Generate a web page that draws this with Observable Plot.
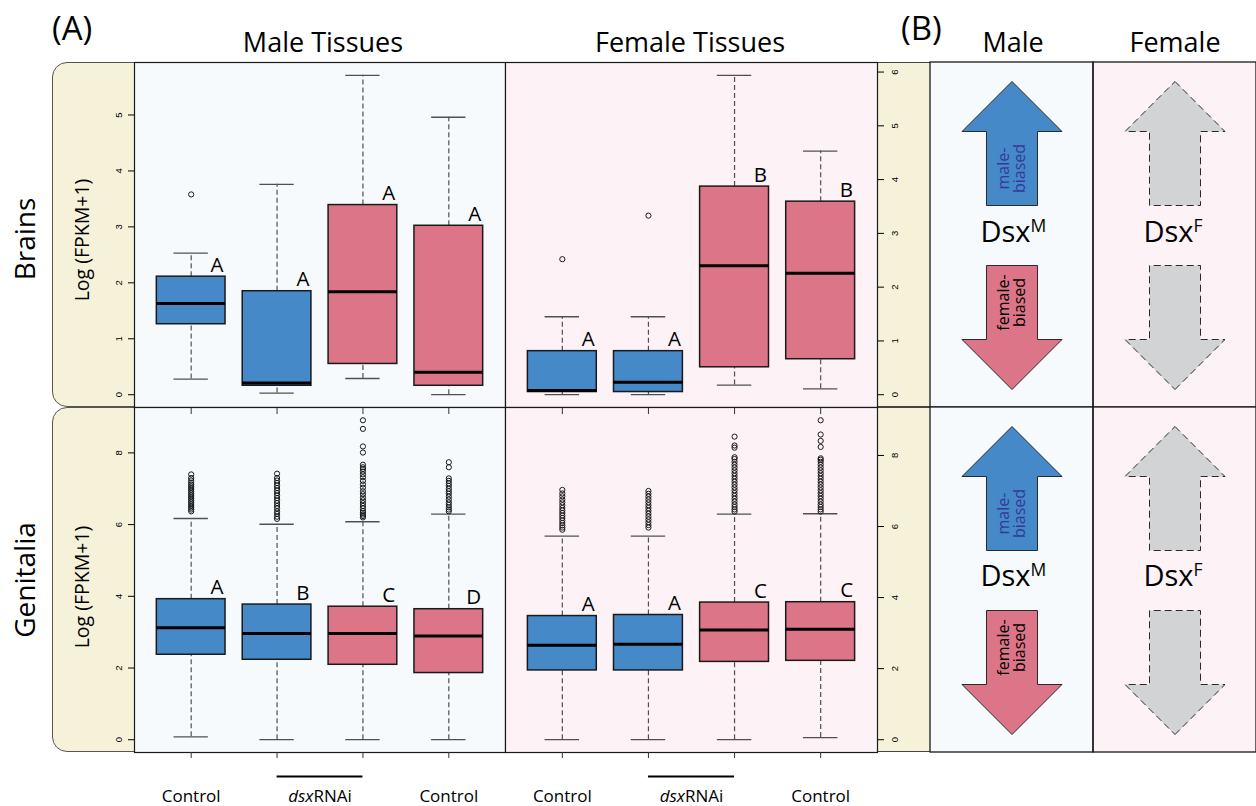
<!DOCTYPE html>
<html>
<head>
<meta charset="utf-8">
<script src="https://cdn.jsdelivr.net/npm/d3@7"></script>
<script src="https://cdn.jsdelivr.net/npm/@observablehq/plot@0.6"></script>
<style>
html,body{margin:0;padding:0;background:#fff;}
#fig{position:relative;width:1256px;height:806px;overflow:hidden;}
</style>
</head>
<body>
<div id="fig"></div>
<script>
// ---------------- data ----------------
// each stats row: [lower whisker, Q1, median, Q3, upper whisker]
const boxGroups = ["male-biased", "male-biased", "female-biased", "female-biased"];
const xGroupLabels = ["Control", "dsxRNAi", "Control"];
const xGroupItalic = ["", "dsx", ""];
const xGroupFirst = [1, 2, 4];
const xGroupLast = [1, 3, 4];

const brainsMaleStats = [
  [0.28, 1.26, 1.63, 2.11, 2.53],
  [0.03, 0.16, 0.21, 1.85, 3.76],
  [0.29, 0.55, 1.84, 3.39, 5.71],
  [0.00, 0.16, 0.40, 3.02, 4.96]
];
const brainsMaleLetters = ["A", "A", "A", "A"];
const brainsMaleOutliers = [[3.58], [], [], []];
const brainsMaleTicks = [0, 1, 2, 3, 4, 5];

const brainsFemaleStats = [
  [0.00, 0.05, 0.08, 0.81, 1.45],
  [0.00, 0.05, 0.23, 0.81, 1.45],
  [0.18, 0.51, 2.40, 3.87, 5.94],
  [0.11, 0.66, 2.26, 3.59, 4.53]
];
const brainsFemaleLetters = ["A", "A", "B", "B"];
const brainsFemaleOutliers = [[2.52], [3.33], [], []];
const brainsFemaleTicks = [0, 1, 2, 3, 4, 5, 6];

const genitaliaMaleStats = [
  [0.08, 2.37, 3.12, 3.92, 6.17],
  [0.00, 2.23, 2.96, 3.77, 6.01],
  [0.00, 2.09, 2.96, 3.71, 6.08],
  [0.00, 1.86, 2.89, 3.64, 6.29]
];
const genitaliaMaleLetters = ["A", "B", "C", "D"];
const genitaliaMaleOutliers = [
  [6.37, 6.42, 6.47, 6.52, 6.57, 6.62, 6.67, 6.72, 6.77, 6.82, 6.87, 6.92, 6.97, 7.02, 7.07, 7.12, 7.17, 7.23, 7.30, 7.40],
  [6.16, 6.22, 6.30, 6.37, 6.45, 6.52, 6.60, 6.67, 6.74, 6.81, 6.88, 6.95, 7.02, 7.09, 7.16, 7.23, 7.30, 7.42],
  [6.20, 6.24, 6.28, 6.33, 6.38, 6.45, 6.52, 6.60, 6.68, 6.76, 6.85, 6.93, 7.03, 7.12, 7.22, 7.32, 7.40, 7.48, 7.55, 7.60, 7.67, 8.01, 8.18, 8.67, 8.91],
  [6.37, 6.42, 6.48, 6.55, 6.62, 6.70, 6.78, 6.86, 6.93, 7.00, 7.08, 7.15, 7.22, 7.29, 7.60, 7.74]
];
const genitaliaMaleTicks = [0, 2, 4, 6, 8];

const genitaliaFemaleStats = [
  [0.00, 1.95, 2.66, 3.48, 5.73],
  [0.00, 1.95, 2.69, 3.51, 5.73],
  [0.00, 2.19, 3.09, 3.86, 6.35],
  [0.06, 2.22, 3.11, 3.87, 6.36]
];
const genitaliaFemaleLetters = ["A", "A", "C", "C"];
const genitaliaFemaleOutliers = [
  [5.91, 5.97, 6.03, 6.10, 6.17, 6.24, 6.31, 6.38, 6.45, 6.52, 6.60, 6.68, 6.76, 6.85, 6.93, 7.03],
  [5.97, 6.04, 6.12, 6.20, 6.28, 6.36, 6.44, 6.52, 6.60, 6.68, 6.76, 6.84, 6.92, 7.00],
  [6.42, 6.48, 6.55, 6.62, 6.70, 6.78, 6.86, 6.94, 7.02, 7.10, 7.18, 7.26, 7.34, 7.42, 7.50, 7.58, 7.66, 7.74, 7.82, 7.90, 7.95, 8.22, 8.28, 8.53],
  [6.42, 6.48, 6.55, 6.62, 6.70, 6.78, 6.86, 6.94, 7.02, 7.10, 7.18, 7.26, 7.34, 7.42, 7.50, 7.58, 7.66, 7.74, 7.82, 7.88, 7.92, 8.24, 8.41, 8.59, 8.99]
];
const genitaliaFemaleTicks = [0, 2, 4, 6, 8];

// panel B
const bColumns = ["Male", "Female"];
const bSlots = ["up", "dsx", "down"];
const bDirections = ["up", "down"];
const biasGroups = ["male-biased", "female-biased", "neutral"];
const maleArrowBias = ["male-biased", "female-biased"];
const maleArrowText = ["male-\nbiased", "female-\nbiased"];
const dsxIsoform = ["M", "F"];

// ---------------- styles ----------------
const BLUE = "#4589c8", PINK = "#dc7587", GRAYA = "#d1d3d4";
const BEIGE = "#f6f2d9", BG_M = "#f6fafd", BG_F = "#fdf2f6";
const INK = "#1a1a1a", WHISK = "#505050", TXTBLUE = "#34389c";
const FONT = '"Open Sans", "Noto Sans", sans-serif';
const TICKFONT = '"Liberation Sans", Arial, sans-serif';

const fig = document.getElementById("fig");

function bgDiv(left, top, w, h, css) {
  const d = document.createElement("div");
  Object.assign(d.style, {position: "absolute", left: left + "px", top: top + "px",
    width: w + "px", height: h + "px", boxSizing: "border-box"}, css);
  fig.appendChild(d);
}
function place(svg, left, top) {
  Object.assign(svg.style, {position: "absolute", left: left + "px", top: top + "px",
    overflow: "visible", maxWidth: "none", background: "transparent"});
  fig.appendChild(svg);
}

// beige strips
bgDiv(52, 62, 100, 345, {background: BEIGE, border: "1.3px solid #555", borderRadius: "15px 0 0 15px"});
bgDiv(52, 407, 100, 345, {background: BEIGE, border: "1.3px solid #555", borderRadius: "15px 0 0 15px"});
bgDiv(877, 62, 53, 345, {background: BEIGE, borderTop: "1.3px solid #444", borderBottom: "1px solid #444"});
bgDiv(877, 407, 53, 345, {background: BEIGE, borderTop: "1px solid #444", borderBottom: "1.3px solid #444"});

// text width helper
const measureCtx = document.createElement("canvas").getContext("2d");
function textWidth(str, font) { measureCtx.font = font; return measureCtx.measureText(str).width; }

function boxPanel(o) {
  const n = o.stats.length;
  const boxes = o.stats.map((s, i) => ({pos: i + 1, lo: s[0], q1: s[1], med: s[2], q3: s[3], hi: s[4],
    letter: o.letters[i], group: boxGroups[i]}));
  const outs = o.outliers.flatMap((a, i) => a.map(v => ({pos: i + 1, v})));
  const vals = o.stats.flat().concat(o.outliers.flat());
  const vmin = d3.min(vals), vmax = d3.max(vals), pad = 0.04 * (vmax - vmin);
  const yDom = [vmin - pad, vmax + pad];
  const xDom = [0.5 - 0.04 * n, n + 0.5 + 0.04 * n];
  const half = 0.4, capHalf = 0.2;
  const positions = boxes.map(d => d.pos);
  const marks = [
    Plot.frame({fill: o.bg}),
    Plot.ruleX(boxes, {x: "pos", y1: "q3", y2: "hi", stroke: WHISK, strokeWidth: 1.2, strokeDasharray: "5,3"}),
    Plot.ruleX(boxes, {x: "pos", y1: "lo", y2: "q1", stroke: WHISK, strokeWidth: 1.2, strokeDasharray: "5,3"}),
    Plot.ruleY(boxes, {y: "hi", x1: d => d.pos - capHalf, x2: d => d.pos + capHalf, stroke: WHISK, strokeWidth: 1.3}),
    Plot.ruleY(boxes, {y: "lo", x1: d => d.pos - capHalf, x2: d => d.pos + capHalf, stroke: WHISK, strokeWidth: 1.3}),
    Plot.rect(boxes, {x1: d => d.pos - half, x2: d => d.pos + half, y1: "q1", y2: "q3", fill: "group", stroke: INK, strokeWidth: 1.5}),
    Plot.ruleY(boxes, {y: "med", x1: d => d.pos - half, x2: d => d.pos + half, stroke: "#000", strokeWidth: 3}),
    Plot.dot(outs, {x: "pos", y: "v", r: 2.6, stroke: INK, strokeWidth: 1, fill: "none"}),
    Plot.text(boxes, {x: d => d.pos + half, y: "q3", text: "letter", textAnchor: "end", lineAnchor: "bottom",
      dx: -2, dy: -5, fontSize: 20.5, fontFamily: FONT, fill: "#000"}),
    Plot.frame({stroke: INK, strokeWidth: 1.2}),
    Plot.axisY({anchor: o.axis, ticks: o.ticks, tickFormat: d => String(d), tickSize: 6,
      tickPadding: o.axis === "right" ? 8 : 7,
      tickRotate: -90, fontSize: 9.5, label: null, ...(o.axis === "right" ? {lineAnchor: "top"} : {})})
  ];
  if (o.topTicks) {
    marks.push(Plot.axisX({anchor: "top", ticks: positions, tickSize: -6, tickFormat: () => "", label: null, stroke: "#333"}));
  }
  if (o.bottomLabels) {
    const groups = xGroupLabels.map((label, i) => ({label, italic: xGroupItalic[i],
      first: xGroupFirst[i], last: xGroupLast[i]}));
    const plain = groups.filter(g => !g.italic);
    const split = groups.filter(g => g.italic);
    const fs = 17;
    const w1 = textWidth("dsx", `italic ${fs}px ${FONT}`);
    const w2 = textWidth("RNAi", `${fs}px ${FONT}`);
    const off = w1 - (w1 + w2) / 2;
    const yBottom = () => yDom[0];
    marks.push(
      Plot.axisX({anchor: "bottom", ticks: positions, tickSize: 6, tickFormat: () => "", label: null, stroke: "#333"}),
      Plot.ruleY(split, {x1: "first", x2: "last", y: yBottom, dy: 24, stroke: "#000", strokeWidth: 2.2}),
      Plot.text(plain, {x: d => (d.first + d.last) / 2, y: yBottom, text: "label", dy: 49, lineAnchor: "bottom",
        fontSize: fs, fontFamily: FONT, fill: "#000"}),
      Plot.text(split, {x: d => (d.first + d.last) / 2, y: yBottom, text: "italic", dy: 49, dx: off,
        textAnchor: "end", lineAnchor: "bottom", fontStyle: "italic", fontSize: fs, fontFamily: FONT, fill: "#000"}),
      Plot.text(split, {x: d => (d.first + d.last) / 2, y: yBottom, text: d => d.label.slice(d.italic.length), dy: 49, dx: off,
        textAnchor: "start", lineAnchor: "bottom", fontSize: fs, fontFamily: FONT, fill: "#000"})
    );
  }
  const svg = Plot.plot({
    width: o.width, height: o.height, margin: 0,
    style: {background: "transparent", fontFamily: TICKFONT, fontSize: "9.5px", overflow: "visible"},
    x: {domain: xDom, axis: null},
    y: {domain: yDom, axis: null},
    color: {domain: biasGroups, range: [BLUE, PINK, GRAYA]},
    marks
  });
  place(svg, o.left, o.top);
}

boxPanel({stats: brainsMaleStats, letters: brainsMaleLetters, outliers: brainsMaleOutliers, ticks: brainsMaleTicks,
  axis: "left", bg: BG_M, left: 134, top: 62, width: 371, height: 345});
boxPanel({stats: brainsFemaleStats, letters: brainsFemaleLetters, outliers: brainsFemaleOutliers, ticks: brainsFemaleTicks,
  axis: "right", bg: BG_F, left: 505, top: 62, width: 372, height: 345});
boxPanel({stats: genitaliaMaleStats, letters: genitaliaMaleLetters, outliers: genitaliaMaleOutliers, ticks: genitaliaMaleTicks,
  axis: "left", bg: BG_M, left: 134, top: 407, width: 371, height: 345, topTicks: true, bottomLabels: true});
boxPanel({stats: genitaliaFemaleStats, letters: genitaliaFemaleLetters, outliers: genitaliaFemaleOutliers, ticks: genitaliaFemaleTicks,
  axis: "right", bg: BG_F, left: 505, top: 407, width: 372, height: 345, topTicks: true, bottomLabels: true});

// ---------------- panel B ----------------
function arrowSymbol(dir) {
  const s = dir === "up" ? 1 : -1;
  const H = 62, HW = 50, SW = 25.5, HB = 12;
  return {draw(ctx) {
    ctx.moveTo(0, -s * H);
    ctx.lineTo(HW, -s * HB);
    ctx.lineTo(SW, -s * HB);
    ctx.lineTo(SW, s * H);
    ctx.lineTo(-SW, s * H);
    ctx.lineTo(-SW, -s * HB);
    ctx.lineTo(-HW, -s * HB);
    ctx.closePath();
  }};
}

function panelB(top, dsxDy) {
  const arrows = [];
  bColumns.forEach(col => bDirections.forEach((dir, j) => arrows.push({
    col, dir, bias: col === "Male" ? maleArrowBias[j] : "neutral", text: col === "Male" ? maleArrowText[j] : ""
  })));
  const marks = [
    Plot.cell(["Male"], {x: d => d, fill: BG_M}),
    Plot.cell(["Female"], {x: d => d, fill: BG_F}),
    Plot.cell(bColumns, {x: d => d, fill: "none", stroke: INK, strokeWidth: 1.3})
  ];
  for (const dir of bDirections) {
    const sym = arrowSymbol(dir);
    marks.push(
      Plot.dot(arrows.filter(a => a.dir === dir && a.col === "Male"), {x: "col", y: "dir", symbol: sym, r: 10,
        fill: "bias", stroke: "#2a2a2a", strokeWidth: 1}),
      Plot.dot(arrows.filter(a => a.dir === dir && a.col === "Female"), {x: "col", y: "dir", symbol: sym, r: 10,
        fill: "bias", stroke: "#2a2a2a", strokeWidth: 1, strokeDasharray: "7,4"}),
      Plot.text(arrows.filter(a => a.dir === dir && a.text), {x: "col", y: "dir", text: "text", rotate: -90,
        dy: dir === "up" ? 25 : -25, lineHeight: 1.0, fontSize: 16, fontFamily: FONT,
        fill: dir === "up" ? TXTBLUE : "#000"})
    );
  }
  marks.push(
    Plot.text(bColumns, {x: d => d, y: () => "dsx", text: () => "Dsx", textAnchor: "end", dx: 18.5, dy: dsxDy,
      fontSize: 29, fontFamily: FONT, fill: "#000"}),
    Plot.text(bColumns, {x: d => d, y: () => "dsx", text: (d, i) => dsxIsoform[i], textAnchor: "start", dx: 18.5,
      dy: dsxDy - 6, fontSize: 17.5, fontFamily: FONT, fill: "#000"})
  );
  const svg = Plot.plot({
    width: 326, height: 345, margin: 0,
    style: {background: "transparent", fontFamily: FONT, overflow: "visible"},
    x: {domain: bColumns, padding: 0, axis: null},
    y: {type: "point", domain: bSlots, padding: 0.87, axis: null},
    color: {domain: biasGroups, range: [BLUE, PINK, GRAYA]},
    marks
  });
  place(svg, 930, top);
}
panelB(62, -3);
panelB(407, -4);

// ---------------- titles & labels ----------------
const ov = d3.create("svg").attr("width", 1256).attr("height", 806)
  .style("position", "absolute").style("left", "0px").style("top", "0px")
  .style("pointer-events", "none").style("font-family", FONT);
const notes = [
  {t: "(A)", x: 52, y: 40, s: 33, a: "start"},
  {t: "Male Tissues", x: 323, y: 52, s: 27, a: "middle"},
  {t: "Female Tissues", x: 690, y: 52, s: 27, a: "middle"},
  {t: "(B)", x: 901, y: 40, s: 33, a: "start"},
  {t: "Male", x: 1013, y: 52, s: 27, a: "middle"},
  {t: "Female", x: 1175, y: 52, s: 27, a: "middle"},
  {t: "Brains", x: 35, y: 239, s: 28, a: "middle", r: -90},
  {t: "Genitalia", x: 35, y: 580, s: 28, a: "middle", r: -90},
  {t: "Log (FPKM+1)", x: 89, y: 240, s: 19.5, a: "middle", r: -90},
  {t: "Log (FPKM+1)", x: 89, y: 587, s: 19.5, a: "middle", r: -90}
];
for (const n of notes) {
  ov.append("text")
    .attr("transform", `translate(${n.x},${n.y})` + (n.r ? ` rotate(${n.r})` : ""))
    .attr("text-anchor", n.a).attr("font-size", n.s).attr("fill", "#000")
    .text(n.t);
}
fig.appendChild(ov.node());
</script>
</body>
</html>
